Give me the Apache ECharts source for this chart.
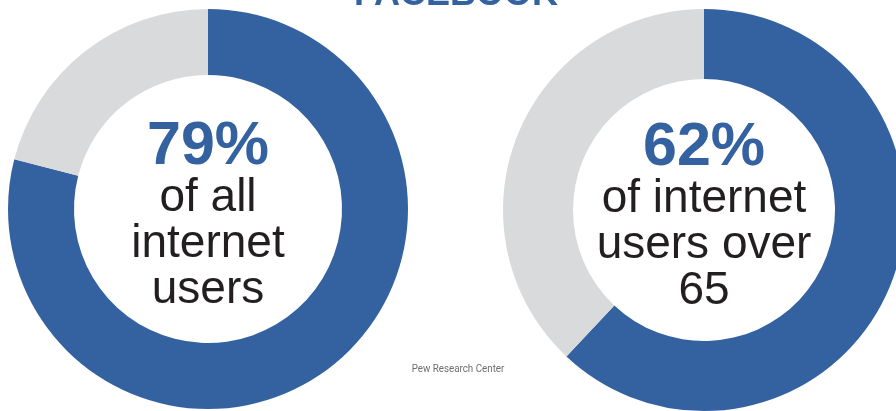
<!DOCTYPE html>
<html>
<head>
<meta charset="utf-8">
<script src="https://cdn.jsdelivr.net/npm/echarts@6/dist/echarts.min.js"></script>
<style>
  html, body { margin: 0; padding: 0; background: #fff; }
  #chart { width: 896px; height: 411px; }
</style>
</head>
<body>
<div id="chart"></div>
<script>
  // share of internet users on facebook
  var segmentNames = ["Facebook", "Not on Facebook"];
  var allUsers = [79, 21];
  var over65 = [62, 38];
  var pctLabels = ["79%", "62%"];
  var captionLines = [
    ["of all", "internet", "users"],
    ["of internet", "users over", "65"]
  ];

  var blue = "#3462a0";
  var grey = "#d9dadb";
  var font = "'Liberation Sans', Arial, sans-serif";

  var chart = echarts.init(document.getElementById("chart"));

  function donut(values, idx, center, radius) {
    return {
      type: "pie",
      center: center,
      radius: radius,
      startAngle: 90,
      clockwise: true,
      silent: true,
      avoidLabelOverlap: false,
      labelLine: { show: false },
      data: values.map(function (v, i) {
        return {
          name: segmentNames[i],
          value: v,
          itemStyle: { color: i === 0 ? blue : grey },
          label: { show: i === 0 }
        };
      }),
      label: {
        position: "center",
        formatter: function () {
          return "{pct|" + pctLabels[idx] + "}\n" +
            captionLines[idx].map(function (s) { return "{txt|" + s + "}"; }).join("\n");
        },
        rich: {
          pct: {
            fontFamily: font, fontWeight: "bold", fontSize: 61,
            color: blue, lineHeight: 70, padding: [14, 0, 0, 0]
          },
          txt: {
            fontFamily: font, fontSize: 46, color: "#231f20", lineHeight: 46
          }
        }
      }
    };
  }

  chart.setOption({
    animation: false,
    graphic: [
      {
        type: "text", x: 456, y: -5,
        style: {
          text: "FACEBOOK", fill: blue, font: "bold 36px " + font,
          textAlign: "center", textVerticalAlign: "middle"
        }
      },
      {
        type: "text", x: 458, y: 369, scaleX: 0.89,
        style: {
          text: "Pew Research Center", fill: "#6d6e70",
          font: "11px Roboto, sans-serif",
          textAlign: "center", textVerticalAlign: "middle"
        }
      }
    ],
    series: [
      donut(allUsers, 0, [208, 209], [134, 200]),
      donut(over65, 1, [704, 210], [131, 201])
    ]
  });
</script>
</body>
</html>
